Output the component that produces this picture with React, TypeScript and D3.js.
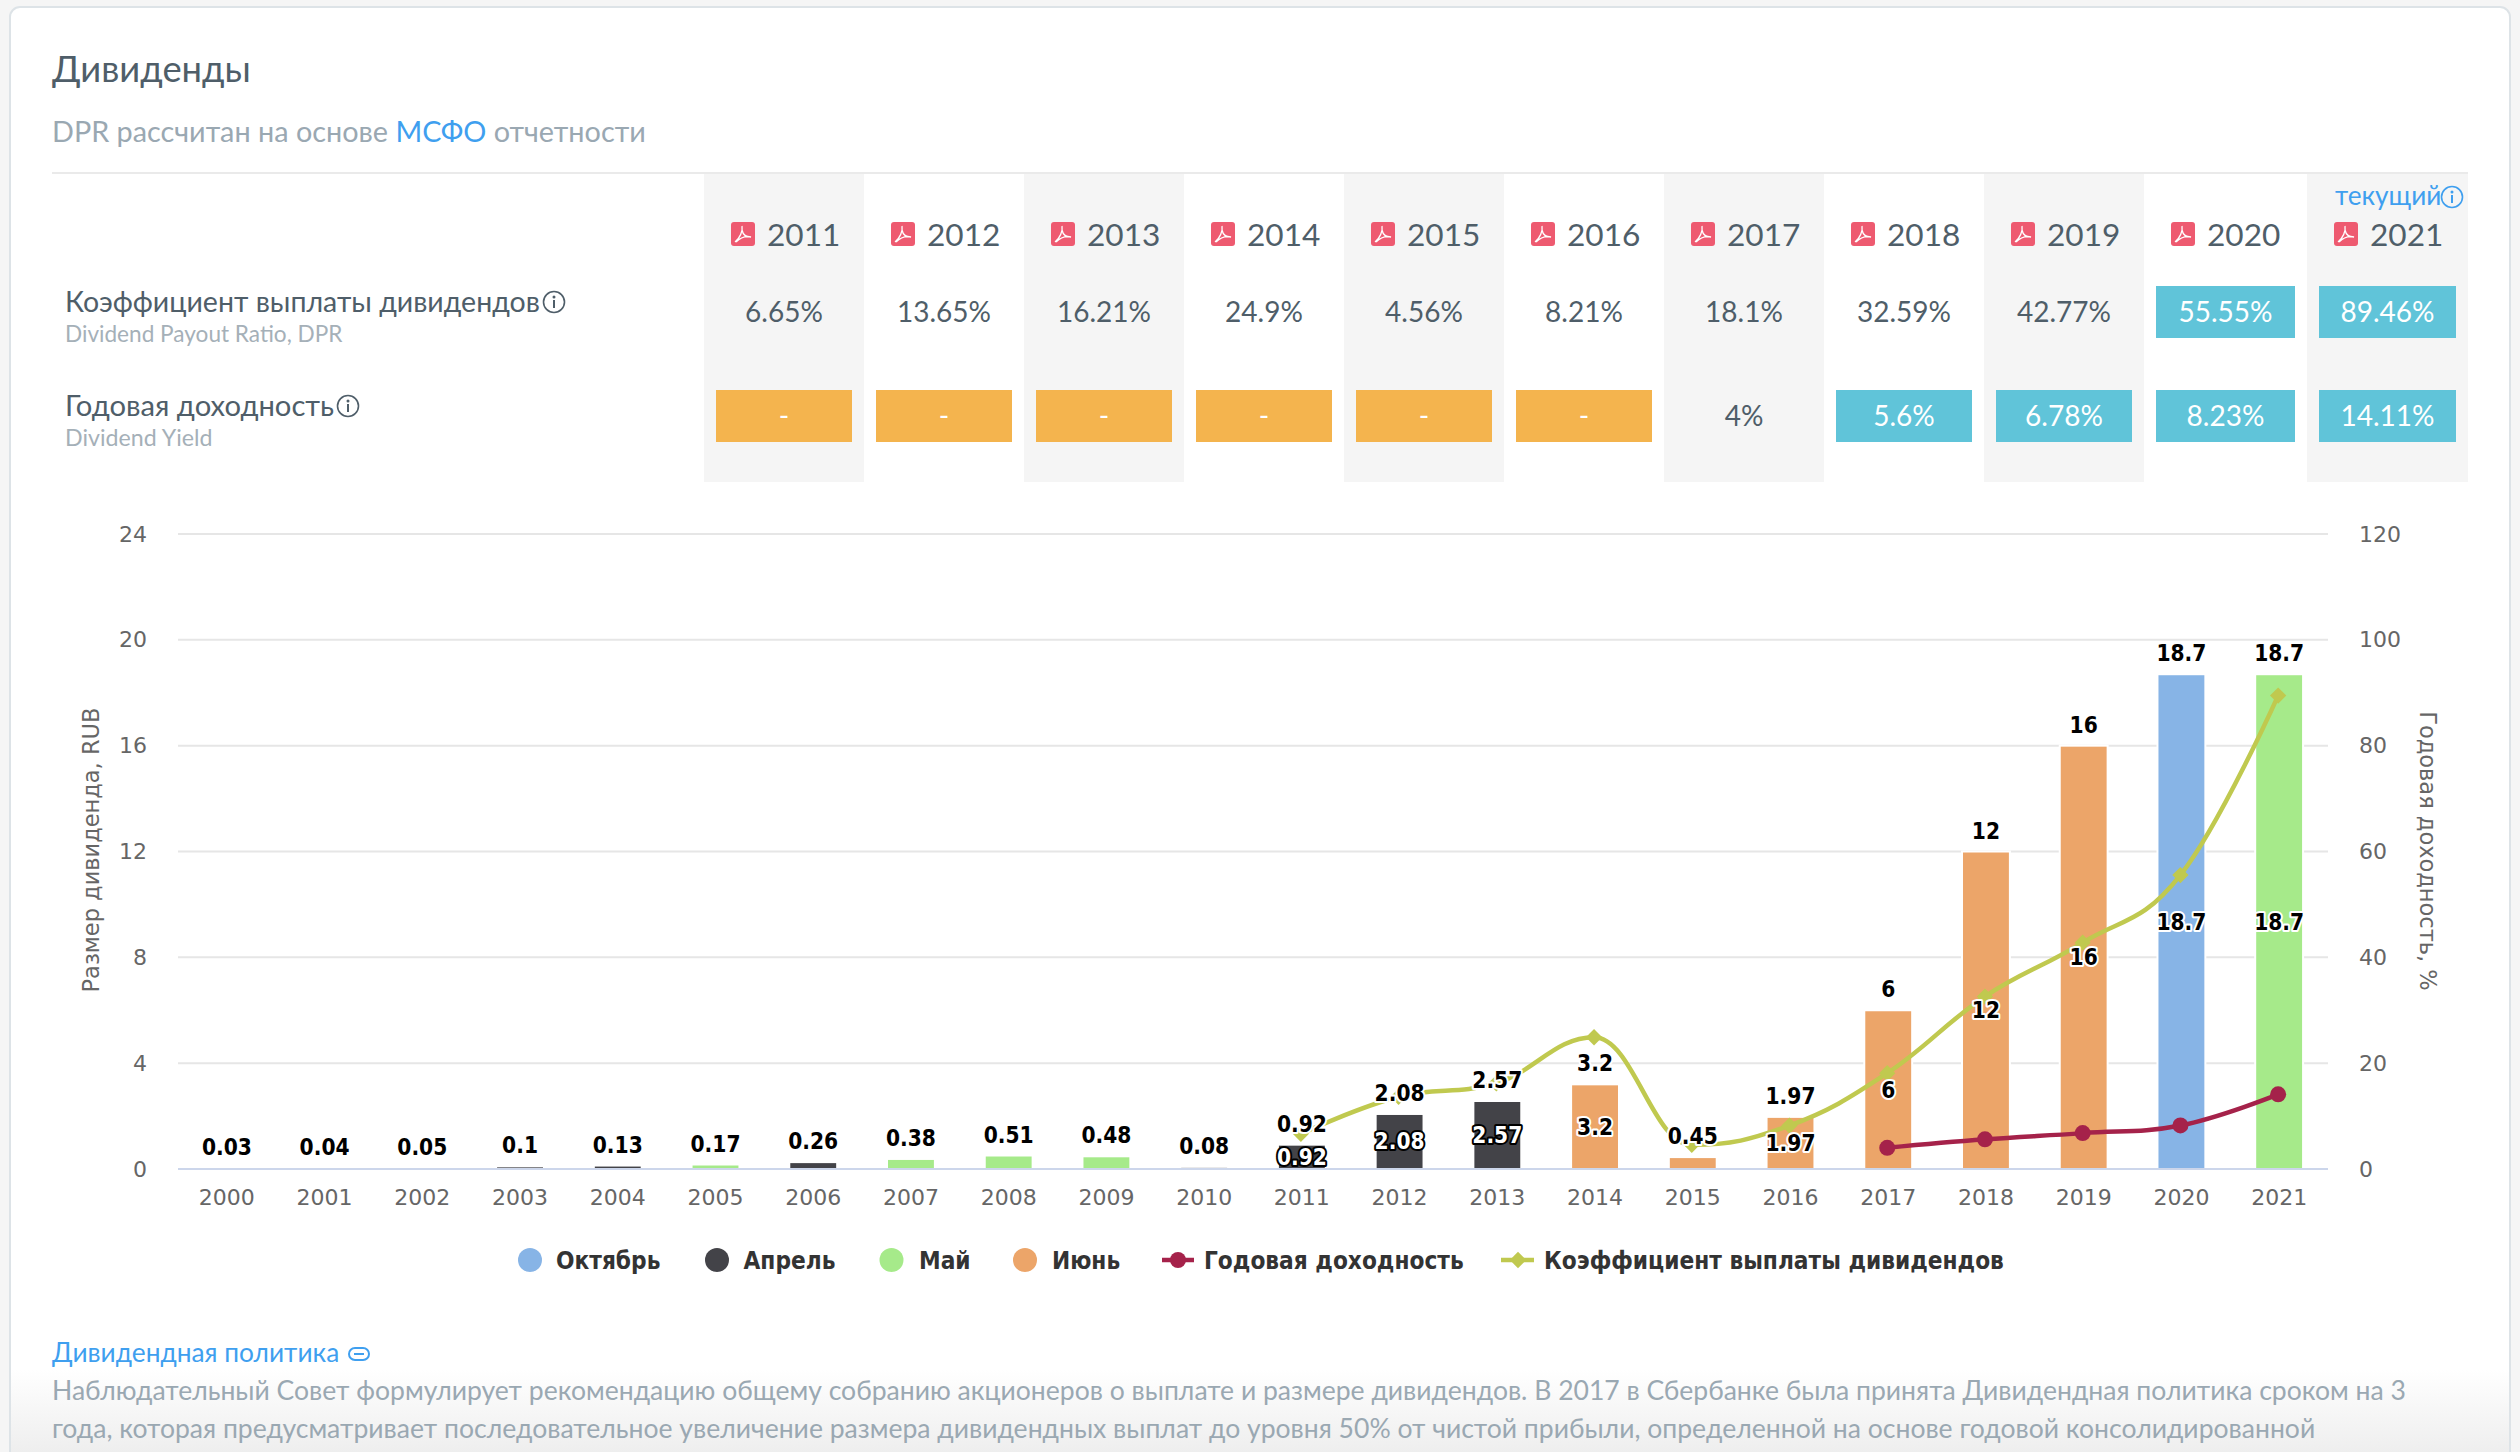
import { useEffect, useRef } from 'react';
import * as d3 from 'd3';

const years = d3.range(2000, 2022).map(String);
const dividends = [0.03, 0.04, 0.05, 0.1, 0.13, 0.17, 0.26, 0.38, 0.51, 0.48, 0.08, 0.92, 2.08, 2.57, 3.2, 0.45, 1.97, 6, 12, 16, 18.7, 18.7];
const payMonths = ['Апрель', 'Апрель', 'Апрель', 'Апрель', 'Апрель', 'Май', 'Апрель', 'Май', 'Май', 'Май', 'Апрель', 'Апрель', 'Апрель', 'Апрель', 'Июнь', 'Июнь', 'Июнь', 'Июнь', 'Июнь', 'Июнь', 'Октябрь', 'Май'];
const monthNames = ['Октябрь', 'Апрель', 'Май', 'Июнь'];
const monthColors = ['#87b4e6', '#434348', '#a6ea8a', '#eca569'];

const tableYears = ['2011', '2012', '2013', '2014', '2015', '2016', '2017', '2018', '2019', '2020', '2021'];
const dprValues = [6.65, 13.65, 16.21, 24.9, 4.56, 8.21, 18.1, 32.59, 42.77, 55.55, 89.46];
const yieldValues = [null, null, null, null, null, null, 4, 5.6, 6.78, 8.23, 14.11];

const leftTicks = [0, 4, 8, 12, 16, 20, 24];
const rightTicks = [0, 20, 40, 60, 80, 100, 120];

const paragraph = [
  'Наблюдательный Совет формулирует рекомендацию общему собранию акционеров о выплате и размере дивидендов. В 2017 в Сбербанке была принята Дивидендная политика сроком на 3',
  'года, которая предусматривает последовательное увеличение размера дивидендных выплат до уровня 50% от чистой прибыли, определенной на основе годовой консолидированной',
];

const UI_FONT = 'Lato, "Open Sans", sans-serif';
const CHART_FONT = '"DejaVu Sans", sans-serif';
const SLATE = '#4f5e69';

// same control point maths as a Highcharts spline, no overshoot past neighbours
function splinePath(pts: [number, number][]) {
  const p = d3.path();
  const s = 1.5;
  const conts = pts.map(([x, y], i) => {
    if (i === 0 || i === pts.length - 1) return null;
    const [lx, ly] = pts[i - 1];
    const [nx, ny] = pts[i + 1];
    const lcx = (s * x + lx) / (s + 1);
    let lcy = (s * y + ly) / (s + 1);
    const rcx = (s * x + nx) / (s + 1);
    let rcy = (s * y + ny) / (s + 1);
    const correct = ((rcy - lcy) * (rcx - x)) / (rcx - lcx) + y - rcy;
    lcy += correct;
    rcy += correct;
    if (lcy > ly && lcy > y) {
      lcy = Math.max(ly, y);
      rcy = 2 * y - lcy;
    } else if (lcy < ly && lcy < y) {
      lcy = Math.min(ly, y);
      rcy = 2 * y - lcy;
    }
    if (rcy > ny && rcy > y) {
      rcy = Math.max(ny, y);
      lcy = 2 * y - rcy;
    } else if (rcy < ny && rcy < y) {
      rcy = Math.min(ny, y);
      lcy = 2 * y - rcy;
    }
    return { lcx, lcy, rcx, rcy };
  });
  pts.forEach(([x, y], i) => {
    if (i === 0) {
      p.moveTo(x, y);
      return;
    }
    const prev = conts[i - 1];
    const cur = conts[i];
    const [px, py] = pts[i - 1];
    p.bezierCurveTo(prev ? prev.rcx : px, prev ? prev.rcy : py, cur ? cur.lcx : x, cur ? cur.lcy : y, x, y);
  });
  return p.toString();
}

type Sel = d3.Selection<any, any, any, any>;

function uiText(g: Sel, x: number, y: number, str: string, size: number, fill: string, anchor = 'start', weight = 400) {
  return g
    .append('text')
    .attr('x', x)
    .attr('y', y)
    .attr('text-anchor', anchor)
    .attr('fill', fill)
    .style('font-family', UI_FONT)
    .style('font-size', `${size}px`)
    .style('font-weight', weight)
    .text(str);
}

function infoIcon(g: Sel, cx: number, cy: number, color: string) {
  g.append('circle').attr('cx', cx).attr('cy', cy).attr('r', 10.5).attr('fill', 'none').attr('stroke', color).attr('stroke-width', 1.6);
  g.append('circle').attr('cx', cx).attr('cy', cy - 5).attr('r', 1.5).attr('fill', color);
  g.append('rect').attr('x', cx - 1).attr('y', cy - 2).attr('width', 2).attr('height', 8).attr('fill', color);
}

function pdfIcon(g: Sel, x: number, y: number) {
  g.append('rect').attr('x', x).attr('y', y).attr('width', 24).attr('height', 24).attr('rx', 3).attr('fill', '#ee5a70');
  g.append('path')
    .attr('d', `M${x + 4} ${y + 20} C${x + 9} ${y + 16} ${x + 12} ${y + 9} ${x + 11} ${y + 4} M${x + 11} ${y + 8} C${x + 12} ${y + 13} ${x + 15} ${y + 15} ${x + 20} ${y + 15} C${x + 15} ${y + 14} ${x + 9} ${y + 16} ${x + 5} ${y + 20}`)
    .attr('fill', 'none')
    .attr('stroke', '#fff')
    .attr('stroke-width', 1.3);
}

function drawHeader(svg: Sel) {
  const g = svg.append('g');
  uiText(g, 52, 82, 'Дивиденды', 36.4, SLATE);
  const sub = uiText(g, 52, 142, 'DPR рассчитан на основе ', 28.8, '#9aa8b2');
  sub.append('tspan').attr('fill', '#3f9fef').text('МСФО');
  sub.append('tspan').text(' отчетности');

  const colEdge = d3.scaleLinear().domain([0, 9, 10, 11]).range([704, 2144, 2307, 2468]);
  const inset = 12;

  tableYears.forEach((yr, i) => {
    const x0 = colEdge(i);
    const x1 = colEdge(i + 1);
    const cx = (x0 + x1) / 2;
    if (i % 2 === 0) {
      g.append('rect').attr('x', x0).attr('y', 173).attr('width', x1 - x0).attr('height', 309).attr('fill', '#f5f5f5');
    }
    pdfIcon(g, x0 + 27, 222);
    uiText(g, x0 + 63, 246, yr, 31.6, SLATE);

    const dpr = dprValues[i];
    if (dpr >= 50) {
      g.append('rect').attr('x', x0 + inset).attr('y', 286).attr('width', x1 - x0 - 2 * inset).attr('height', 52).attr('fill', '#60c4d9');
    }
    uiText(g, cx, 322, `${dpr}%`, 28, dpr >= 50 ? '#fff' : SLATE, 'middle');

    const yld = yieldValues[i];
    if (yld === null) {
      g.append('rect').attr('x', x0 + inset).attr('y', 390).attr('width', x1 - x0 - 2 * inset).attr('height', 52).attr('fill', '#f4b44e');
      uiText(g, cx, 426, '-', 28, '#fff', 'middle');
    } else {
      if (yld >= 5) {
        g.append('rect').attr('x', x0 + inset).attr('y', 390).attr('width', x1 - x0 - 2 * inset).attr('height', 52).attr('fill', '#60c4d9');
      }
      uiText(g, cx, 426, `${yld}%`, 28, yld >= 5 ? '#fff' : SLATE, 'middle');
    }
  });

  g.append('line').attr('x1', 52).attr('x2', 2468).attr('y1', 173).attr('y2', 173).attr('stroke', '#eaeaea').attr('stroke-width', 2);

  uiText(g, 65, 312, 'Коэффициент выплаты дивидендов', 28.5, SLATE);
  infoIcon(g, 554, 302, SLATE);
  uiText(g, 65, 342, 'Dividend Payout Ratio, DPR', 22.6, '#a5b0b8');
  uiText(g, 65, 416, 'Годовая доходность', 29.2, SLATE);
  infoIcon(g, 348, 406, SLATE);
  uiText(g, 65, 446, 'Dividend Yield', 23.2, '#a5b0b8');

  uiText(g, 2335, 205, 'текущий', 26.2, '#3f9fef');
  infoIcon(g, 2452, 197, '#3f9fef');
}

function drawChart(svg: Sel) {
  const bottom = 1169;
  const top = 534;
  const left = 178;
  const right = 2328;

  const x = d3.scaleBand().domain(years).range([left, right]).paddingInner(0.51).paddingOuter(0.255);
  const yLeft = d3.scaleLinear().domain([0, 24]).range([bottom, top]);
  const yRight = d3.scaleLinear().domain([0, 120]).range([bottom, top]);
  const color = d3.scaleOrdinal<string, string>().domain(monthNames).range(monthColors);
  const cx = (yr: string) => (x(yr) ?? 0) + x.bandwidth() / 2;

  const labelStyle = (t: Sel, size: number) =>
    t
      .attr('text-anchor', 'middle')
      .style('font-family', CHART_FONT)
      .style('font-stretch', 'condensed')
      .style('font-weight', 700)
      .style('font-size', `${size}px`)
      .style('paint-order', 'stroke')
      .attr('stroke-linejoin', 'round');

  const grid = svg.append('g');
  grid
    .selectAll('line')
    .data(leftTicks.slice(1))
    .join('line')
    .attr('x1', left)
    .attr('x2', right)
    .attr('y1', (d) => yLeft(d))
    .attr('y2', (d) => yLeft(d))
    .attr('stroke', '#e6e6e6')
    .attr('stroke-width', 2);

  const styleAxis = (g: Sel) => {
    g.select('.domain').remove();
    g.selectAll('.tick line').remove();
    g.selectAll('text')
      .attr('fill', '#666')
      .style('font-family', CHART_FONT)
      .style('font-size', '22px');
  };

  svg.append('g')
    .attr('transform', `translate(147,0)`)
    .call(d3.axisLeft(yLeft).tickValues(leftTicks).tickSize(0).tickPadding(0))
    .call(styleAxis);
  svg.append('g')
    .attr('transform', `translate(2359,0)`)
    .call(d3.axisRight(yRight).tickValues(rightTicks).tickSize(0).tickPadding(0))
    .call(styleAxis);

  // bars have a white outline, that is what cuts the grid lines
  svg.append('g')
    .selectAll('rect')
    .data(years)
    .join('rect')
    .attr('x', (d) => x(d) ?? 0)
    .attr('width', x.bandwidth())
    .attr('y', (_, i) => yLeft(dividends[i]))
    .attr('height', (_, i) => bottom - yLeft(dividends[i]))
    .attr('fill', (_, i) => color(payMonths[i]))
    .attr('stroke', '#fff')
    .attr('stroke-width', 2);

  svg.append('line').attr('x1', left).attr('x2', right).attr('y1', bottom).attr('y2', bottom).attr('stroke', '#ccd6eb').attr('stroke-width', 2);

  svg.append('g')
    .attr('transform', `translate(0,${bottom})`)
    .call(d3.axisBottom(x).tickSize(0).tickPadding(20))
    .call(styleAxis);

  const yieldPts = tableYears
    .map((yr, i) => ({ yr, v: yieldValues[i] }))
    .filter((d) => d.v !== null)
    .map((d) => [cx(d.yr) - 1, yRight(d.v as number)] as [number, number]);
  const dprPts = tableYears.map((yr, i) => [cx(yr) - 1, yRight(dprValues[i])] as [number, number]);

  const diamond = d3.symbol().type(d3.symbolDiamond2).size(170);

  svg.append('path').attr('d', splinePath(yieldPts)).attr('fill', 'none').attr('stroke', '#a5224a').attr('stroke-width', 4.5);
  svg.append('g').selectAll('circle').data(yieldPts).join('circle')
    .attr('cx', (d) => d[0]).attr('cy', (d) => d[1]).attr('r', 8).attr('fill', '#a5224a');

  svg.append('path').attr('d', splinePath(dprPts)).attr('fill', 'none').attr('stroke', '#c0c94f').attr('stroke-width', 4.5);
  svg.append('g').selectAll('path').data(dprPts).join('path')
    .attr('d', diamond as any)
    .attr('transform', (d) => `translate(${d[0]},${d[1]})`)
    .attr('fill', '#c0c94f');

  // labels inside the bars, only when the bar is tall enough to hold them
  years.forEach((yr, i) => {
    const h = bottom - yLeft(dividends[i]);
    if (h < 20) return;
    const dark = payMonths[i] === 'Апрель';
    labelStyle(svg.append('text'), 22.5)
      .attr('x', cx(yr))
      .attr('y', yLeft(dividends[i] / 2) + 8)
      .attr('fill', dark ? '#fff' : '#000')
      .attr('stroke', dark ? '#000' : '#fff')
      .attr('stroke-width', 4)
      .text(String(dividends[i]));
  });

  // totals above the stack
  years.forEach((yr, i) => {
    labelStyle(svg.append('text'), 22.5)
      .attr('x', cx(yr))
      .attr('y', yLeft(dividends[i]) - 13)
      .attr('fill', '#000')
      .attr('stroke', '#fff')
      .attr('stroke-width', 4)
      .text(String(dividends[i]));
  });

  const title = (t: Sel) =>
    t
      .attr('text-anchor', 'middle')
      .attr('fill', '#666')
      .style('font-family', CHART_FONT)
      .style('font-size', '22.5px');
  title(svg.append('text')).attr('transform', `translate(99,850) rotate(-90)`).text('Размер дивиденда, RUB');
  title(svg.append('text')).attr('transform', `translate(2420,851) rotate(90)`).text('Годовая доходность, %');
}

function drawLegend(svg: Sel) {
  const g = svg.append('g');
  const textY = 1269;
  const label = (x: number, str: string) =>
    g.append('text')
      .attr('x', x)
      .attr('y', textY)
      .attr('fill', '#333')
      .style('font-family', CHART_FONT)
      .style('font-stretch', 'condensed')
      .style('font-weight', 700)
      .style('font-size', '24.2px')
      .text(str);

  const dotCx = [530, 717, 891.5, 1025];
  const labelX = [556, 743.5, 919, 1052];
  monthNames.forEach((m, i) => {
    g.append('circle').attr('cx', dotCx[i]).attr('cy', 1260).attr('r', 12).attr('fill', monthColors[i]);
    label(labelX[i], m);
  });

  g.append('line').attr('x1', 1162).attr('x2', 1194).attr('y1', 1260).attr('y2', 1260).attr('stroke', '#a5224a').attr('stroke-width', 4.5);
  g.append('circle').attr('cx', 1178).attr('cy', 1260).attr('r', 8).attr('fill', '#a5224a');
  label(1204, 'Годовая доходность');

  g.append('line').attr('x1', 1501).attr('x2', 1534).attr('y1', 1260).attr('y2', 1260).attr('stroke', '#c0c94f').attr('stroke-width', 4.5);
  g.append('path').attr('d', d3.symbol().type(d3.symbolDiamond2).size(170)()).attr('transform', 'translate(1518,1260)').attr('fill', '#c0c94f');
  label(1544, 'Коэффициент выплаты дивидендов');
}

function drawFooter(svg: Sel) {
  const g = svg.append('g');
  // page fade sits under the text, the text stays readable
  g.append('rect').attr('x', 11).attr('y', 1370).attr('width', 2498).attr('height', 82).attr('fill', 'url(#fade)');
  uiText(g, 52, 1362, 'Дивидендная политика', 26.3, '#3f9fef');
  g.append('rect').attr('x', 349).attr('y', 1348).attr('width', 20).attr('height', 12).attr('rx', 6).attr('fill', 'none').attr('stroke', '#3f9fef').attr('stroke-width', 2);
  g.append('line').attr('x1', 354).attr('x2', 364).attr('y1', 1354).attr('y2', 1354).attr('stroke', '#3f9fef').attr('stroke-width', 2);
  paragraph.forEach((line, i) => {
    uiText(g, 52, 1400 + i * 38, line, 26.55, '#9aa8b2');
  });
}

export default function App() {
  const svgRef = useRef<SVGSVGElement>(null);

  useEffect(() => {
    if (!svgRef.current) return;
    const svg = d3.select(svgRef.current);
    svg.selectAll('*').remove();

    const defs = svg.append('defs');
    const fade = defs.append('linearGradient').attr('id', 'fade').attr('x1', 0).attr('x2', 0).attr('y1', 0).attr('y2', 1);
    fade.append('stop').attr('offset', 0).attr('stop-color', '#eeeeee').attr('stop-opacity', 0);
    fade.append('stop').attr('offset', 1).attr('stop-color', '#eeeeee').attr('stop-opacity', 1);

    svg.append('rect').attr('width', 2520).attr('height', 1452).attr('fill', '#f5f5f5');
    svg.append('rect')
      .attr('x', 10).attr('y', 7).attr('width', 2500).attr('height', 1470).attr('rx', 10)
      .attr('fill', '#fff').attr('stroke', '#dde3e7').attr('stroke-width', 2);

    drawHeader(svg);
    drawChart(svg);
    drawLegend(svg);
    drawFooter(svg);
  }, []);

  return <svg ref={svgRef} width={2520} height={1452} style={{ position: 'absolute', left: 0, top: 0 }} />;
}
